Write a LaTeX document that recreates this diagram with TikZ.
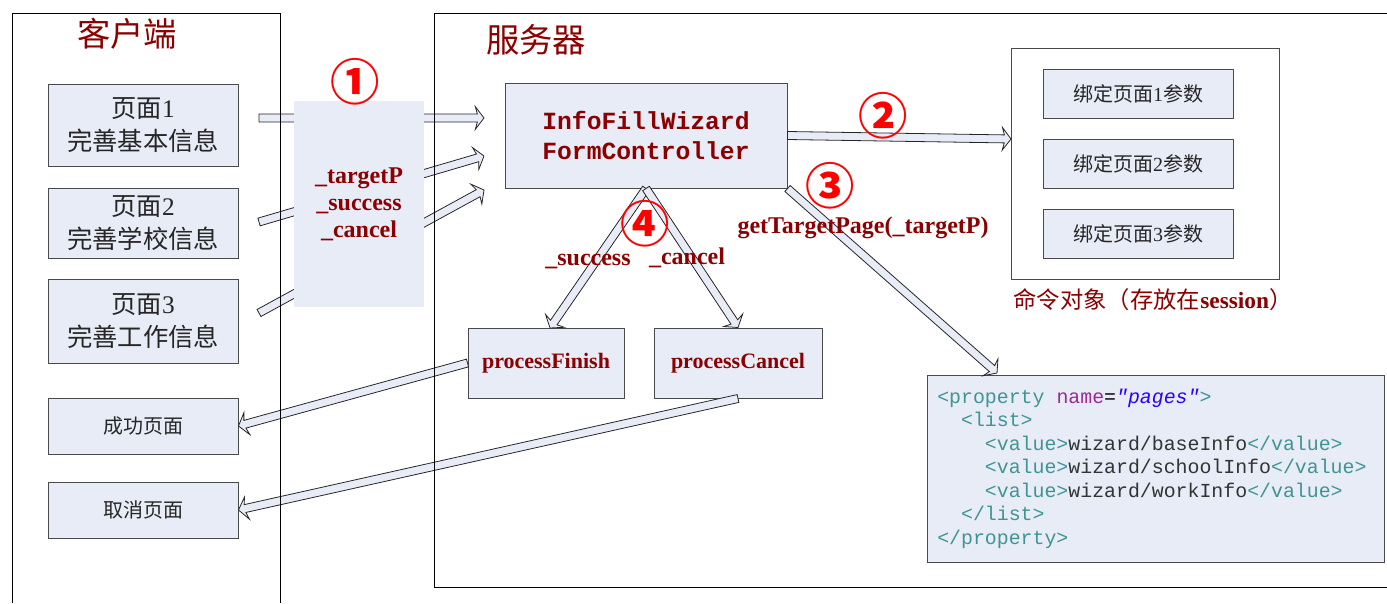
\documentclass[tikz,border=0pt]{standalone}
\usepackage{fontspec}
\setmainfont{Liberation Serif}
\setmonofont{Liberation Mono}
\newfontfamily\cjk{Noto Sans CJK SC}
\usetikzlibrary{calc}
\definecolor{boxfill}{HTML}{E8ECF6}
\definecolor{boxline}{HTML}{4A4A4A}
\definecolor{dred}{HTML}{8B0000}
\definecolor{cred}{HTML}{FF0000}
\definecolor{xtag}{HTML}{3F9494}
\definecolor{xattr}{HTML}{9A2A9A}
\definecolor{xstr}{HTML}{2A00FF}
\definecolor{xtxt}{HTML}{333333}

\newcommand{\fatarrow}[2]{%
  \coordinate (faB) at ($(#2)!5pt!(#1)$);
  \coordinate (faC) at ($(#2)!6.5pt!(#1)$);
  \draw[fatarrowstyle] ($(#1)!3pt!90:(#2)$) -- ($(faB)!3pt!90:(#2)$) -- ($(faC)!8.5pt!90:(#2)$) -- (#2)
    -- ($(faC)!8.5pt!-90:(#2)$) -- ($(faB)!3pt!-90:(#2)$) -- ($(#1)!3pt!-90:(#2)$) -- cycle;
}

\begin{document}
\begin{tikzpicture}[x=0.75pt,y=-0.75pt,
  sz/.style 2 args={minimum width=#1*0.75pt, minimum height=#2*0.75pt},
  box/.style={draw=boxline, fill=boxfill, line width=0.75pt, inner sep=0pt, align=center},
  plainbox/.style={draw=boxline, fill=white, line width=0.75pt, inner sep=0pt},
  parambox/.style={fill=boxfill, inner sep=0pt, align=center},
  fatarrowstyle/.style={draw=black!85, fill=boxfill, line width=0.6pt, line join=miter},
  frame/.style={draw=black, line width=0.75pt},
  title/.style={text=dred, font=\cjk\fontsize{25}{30}\selectfont, inner sep=0pt},
  pagetext/.style={text=black!85, font=\fontsize{19}{25}\selectfont},
  smalltext/.style={text=black!85, font=\fontsize{15}{18}\selectfont},
  redlabel/.style={text=dred, font=\bfseries\fontsize{18}{20}\selectfont, inner sep=0pt},
  circnum/.style={text=cred, font=\cjk\bfseries\fontsize{37}{37}\selectfont, inner sep=0pt}
]
\useasboundingbox (0,0) rectangle (1387,603);

% client pages
\node[box, pagetext, sz={190}{82}] (p1) at (143,125) {{\cjk 页面}1\\{\cjk 完善基本信息}};
\node[box, pagetext, sz={190}{70}] (p2) at (143,223) {{\cjk 页面}2\\{\cjk 完善学校信息}};
\node[box, pagetext, sz={190}{84}] (p3) at (143,321) {{\cjk 页面}3\\{\cjk 完善工作信息}};
\node[box, smalltext, sz={190}{56}] (sp) at (143,426) {\cjk 成功页面};
\node[box, smalltext, sz={190}{56}] (cp) at (143,510) {\cjk 取消页面};

% server
\node[box, text=dred, font=\ttfamily\bfseries\fontsize{18.5}{21.8}\selectfont, sz={282}{105}] (ctl) at (646,135.5) {InfoFillWizard\\FormController};
\node[plainbox, sz={268}{231}] (cmd) at (1145,163.5) {};
\node[box, smalltext, sz={190}{49}] (b1) at (1138,93.5) {{\cjk 绑定页面}1{\cjk 参数}};
\node[box, smalltext, sz={190}{49}] (b2) at (1138,163.5) {{\cjk 绑定页面}2{\cjk 参数}};
\node[box, smalltext, sz={190}{49}] (b3) at (1138,233.5) {{\cjk 绑定页面}3{\cjk 参数}};
\node[text=dred, font=\fontsize{17.5}{20}\selectfont, inner sep=0pt] (cmdlabel) at (1153,300) {{\cjk 命令对象（存放在}\textbf{session}{\cjk ）}};

\node[box, text=dred, font=\bfseries\fontsize{16.5}{20}\selectfont, sz={156}{70}] (pf) at (546,363) {processFinish};
\node[box, text=dred, font=\bfseries\fontsize{16.5}{20}\selectfont, sz={168}{70}] (pc) at (738,363) {processCancel};

\node[box, sz={457}{187}] (xml) at (1155.5,468.5) {};
\node[font=\ttfamily\fontsize{14.9}{17.6}\selectfont, align=left, anchor=west, inner sep=0pt] (xmltext) at (937,468.5) {%
\textcolor{xtag}{<property} \textcolor{xattr}{name}=\textcolor{xstr}{\itshape"pages"}\textcolor{xtag}{>}\\
\phantom{xx}\textcolor{xtag}{<list>}\\
\phantom{xxxx}\textcolor{xtag}{<value>}\textcolor{xtxt}{wizard/baseInfo}\textcolor{xtag}{</value>}\\
\phantom{xxxx}\textcolor{xtag}{<value>}\textcolor{xtxt}{wizard/schoolInfo}\textcolor{xtag}{</value>}\\
\phantom{xxxx}\textcolor{xtag}{<value>}\textcolor{xtxt}{wizard/workInfo}\textcolor{xtag}{</value>}\\
\phantom{xx}\textcolor{xtag}{</list>}\\
\textcolor{xtag}{</property>}};

% connector end points
\coordinate (p1s) at (259,118);
\coordinate (p2s) at (259,222);
\coordinate (p3s) at (259,313);
\coordinate (c1) at (484,118);
\coordinate (c2) at (484,156);
\coordinate (c3) at (484,190);
\coordinate (cmdin) at (1011,139);
\coordinate (xmlin) at (997,373);
\coordinate (pfin) at (550,328);

% arrows
\fatarrow{p1s}{c1}
\fatarrow{p2s}{c2}
\fatarrow{p3s}{c3}
\fatarrow{ctl.east}{cmdin}
\fatarrow{ctl.south}{pfin}
\fatarrow{ctl.south}{pc.north}
\fatarrow{ctl.south east}{xmlin}
\fatarrow{pf.west}{sp.east}
\fatarrow{pc.south}{cp.east}

% parameter box
\node[parambox, redlabel, font=\bfseries\fontsize{18}{20.3}\selectfont, sz={130}{206}] (params) at (359,204) {\_targetP\\\_success\\\_cancel};

% frames
\draw[frame] (12,603) -- (12,13) -- (280,13) -- (280,603);
\draw[frame] (1387,13) -- (434,13) -- (434,587) -- (1387,587);

% titles
\node[title] (tclient) at (127,34) {客户端};
\node[title] (tserver) at (536,40) {服务器};

% labels
\node[circnum] (n1) at (355,82) {①};
\node[circnum] (n2) at (883,116) {②};
\node[circnum] (n3) at (830,186) {③};
\node[circnum] (n4) at (645,224) {④};
\node[redlabel] (lsucc) at (588,262) {\_success};
\node[redlabel] (lcanc) at (687,258) {\_cancel};
\node[redlabel] (lget) at (863,228) {getTargetPage(\_targetP)};
\end{tikzpicture}
\end{document}
